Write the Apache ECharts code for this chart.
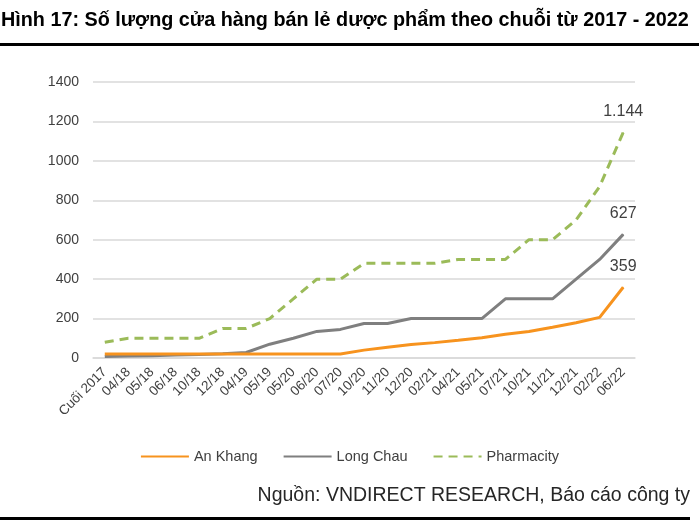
<!DOCTYPE html>
<html>
<head>
<meta charset="utf-8">
<script src="https://cdn.jsdelivr.net/npm/echarts@6/dist/echarts.min.js"></script>
<style>
html,body{margin:0;padding:0;background:#fff;}
#c{width:699px;height:523px;}
</style>
</head>
<body>
<div id="c"></div>
<script>
var categories = ['Cuối 2017','04/18','05/18','06/18','10/18','12/18','04/19','05/19','05/20','06/20','07/20','10/20','11/20','12/20','02/21','04/21','05/21','07/21','10/21','11/21','12/21','02/22','06/22'];
var anKhang   = [20,20,20,20,20,20,20,20,20,20,20,40,55,68,78,90,103,120,134,156,179,206,359];
var longChau  = [8,10,12,15,18,22,28,70,100,135,145,175,175,200,200,200,200,300,300,300,400,500,627];
var pharmacity= [80,100,100,100,100,150,150,200,300,400,400,480,480,480,480,500,500,500,600,600,700,870,1144];
var yTicks = [0,200,400,600,800,1000,1200,1400];

var titleText = 'Hình 17: Số lượng cửa hàng bán lẻ dược phẩm theo chuỗi từ 2017 - 2022';
var sourceText = 'Nguồn: VNDIRECT RESEARCH, Báo cáo công ty';

var font = 'Liberation Sans, Arial, sans-serif';
function fmt(v){ return String(v).replace(/\B(?=(\d{3})+(?!\d))/g,'.'); }
function withLastLabel(arr, color){
  return arr.map(function(v,i){
    if(i===arr.length-1){
      return {value:v, symbol:'circle', symbolSize:1, itemStyle:{color:color},
        label:{show:true, position:'top', distance:12, formatter:function(p){return fmt(p.value);}, fontSize:16, color:'#404040', fontFamily:font}};
    }
    return v;
  });
}

var chart = echarts.init(document.getElementById('c'));
chart.setOption({
  animation:false,
  textStyle:{fontFamily:font},
  title:{
    text:titleText, left:1, top:11, padding:0,
    textStyle:{fontSize:19.8, fontWeight:'bold', color:'#000', fontFamily:font}
  },
  graphic:[
    {type:'rect', shape:{x:0,y:43,width:699,height:3}, style:{fill:'#000'}},
    {type:'rect', shape:{x:0,y:517,width:690,height:3}, style:{fill:'#000'}},
    {type:'text', right:9, top:486, style:{text:sourceText, fontSize:19.5, fill:'#262626', fontFamily:font}}
  ],
  legend:{
    left:'center', top:444, itemWidth:48, itemHeight:14, itemGap:25,
    itemStyle:{opacity:0},
    textStyle:{fontSize:14.5, color:'#404040', fontFamily:font},
    data:['An Khang','Long Chau','Pharmacity']
  },
  grid:{left:93, right:64, top:82, bottom:165, containLabel:false},
  xAxis:{
    type:'category', data:categories, boundaryGap:true,
    axisLine:{show:true, lineStyle:{color:'#d9d9d9', width:1.5}},
    axisTick:{show:false},
    axisLabel:{rotate:45, fontSize:13.5, color:'#404040', interval:0, margin:12, fontFamily:font}
  },
  yAxis:{
    type:'value', min:yTicks[0], max:yTicks[yTicks.length-1], interval:200,
    axisLine:{show:false}, axisTick:{show:false},
    axisLabel:{fontSize:14, color:'#404040', margin:14, fontFamily:font, formatter:function(v){return String(v);}},
    splitLine:{lineStyle:{color:'#d9d9d9', width:1.5}}
  },
  series:[
    {name:'Long Chau', type:'line', data:withLastLabel(longChau,'#7f7f7f'), symbol:'none', lineStyle:{color:'#7f7f7f', width:3}, itemStyle:{color:'#7f7f7f'}, z:2},
    {name:'An Khang', type:'line', data:withLastLabel(anKhang,'#f7931e'), symbol:'none', lineStyle:{color:'#f7931e', width:3}, itemStyle:{color:'#f7931e'}, z:3},
    {name:'Pharmacity', type:'line', data:withLastLabel(pharmacity,'#9bbb59'), symbol:'none', lineStyle:{color:'#9bbb59', width:3, type:[9,6]}, itemStyle:{color:'#9bbb59'}, z:4}
  ]
});
</script>
</body>
</html>
